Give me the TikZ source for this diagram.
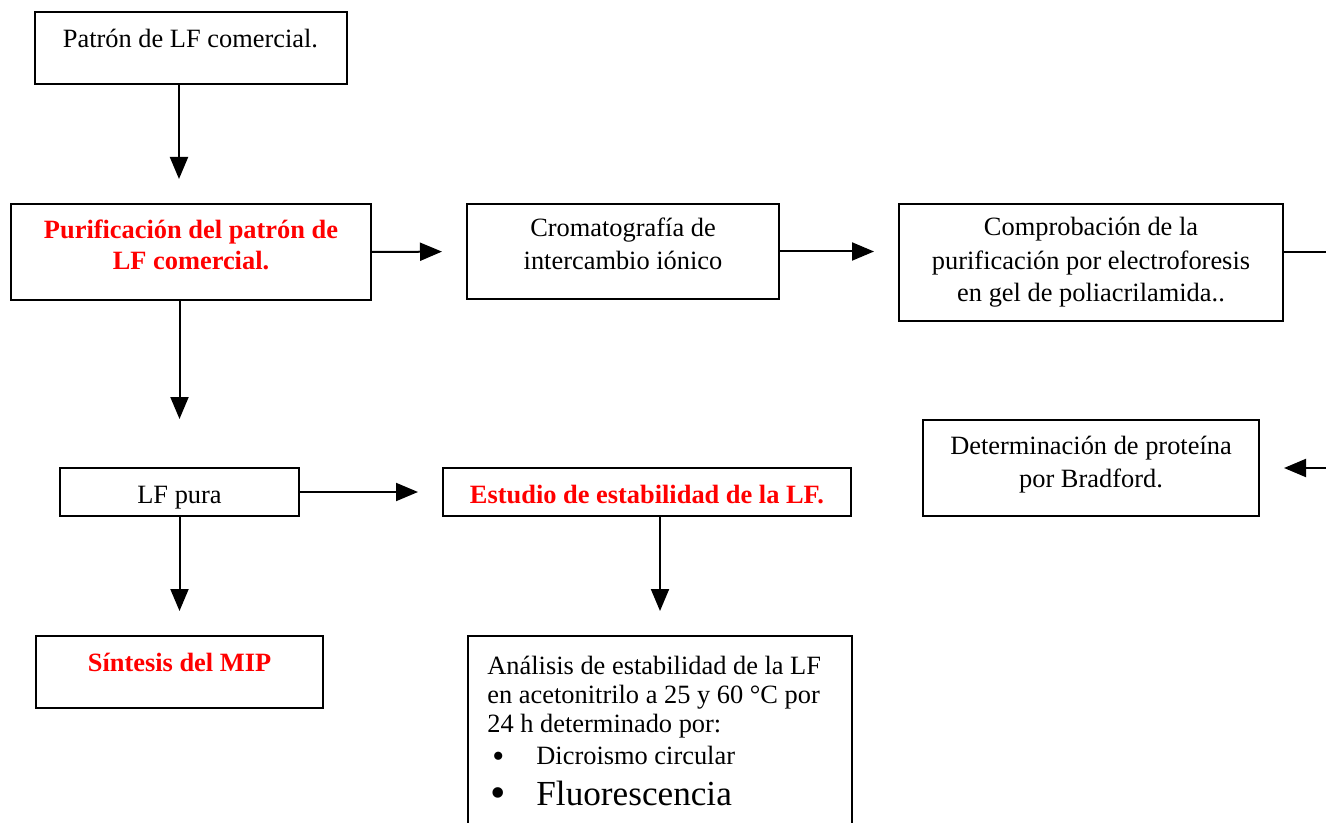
\documentclass[tikz,border=0pt]{standalone}
\usepackage{fontspec}
\setmainfont{Liberation Serif}
\usetikzlibrary{arrows.meta}
\begin{document}
\begin{tikzpicture}[x=0.5pt,y=-0.5pt,
  box/.style={draw,line width=1pt,inner sep=0pt},
  txt/.style={anchor=base,align=center,inner sep=0pt,font=\fontsize{13.2}{16.5}\selectfont},
  redtxt/.style={txt,text=red,font=\fontsize{13.2}{15.5}\selectfont\bfseries},
  conn/.style={line width=1pt,-{Triangle[width=9pt,length=11pt]}}
]
\useasboundingbox (0,0) rectangle (1326,823);
% boxes
\node[box,minimum width=156pt,minimum height=36pt] (patron) at (191,48) {};
\node[box,minimum width=180pt,minimum height=48pt] (purif) at (191,252) {};
\node[box,minimum width=156pt,minimum height=47.5pt] (crom) at (623,251.5) {};
\node[box,minimum width=192pt,minimum height=58.5pt] (compr) at (1091,262.5) {};
\node[box,minimum width=168pt,minimum height=48pt] (determ) at (1091,468) {};
\node[box,minimum width=119.5pt,minimum height=24pt] (lfpura) at (179.5,492) {};
\node[box,minimum width=204pt,minimum height=24pt] (estudio) at (647,492) {};
\node[box,minimum width=143.5pt,minimum height=36pt] (sintesis) at (179.5,672) {};
\node[box,anchor=north west,minimum width=192pt,minimum height=110pt] (analisisbox) at (467,635) {};
% texts (base = baseline of the last line)
\node[txt] (patrontxt) at (190.5,48) {Patrón de LF comercial.};
\node[redtxt] (puriftxt) at (191,270) {Purificación del patrón de\\LF comercial.};
\node[txt] (cromtxt) at (623,270) {Cromatografía de\\intercambio iónico};
\node[txt] (comprtxt) at (1091,302) {Comprobación de la\\purificación por electroforesis\\en gel de poliacrilamida..};
\node[txt] (determtxt) at (1091,487) {Determinación de proteína\\por Bradford.};
\node[txt] (lfpuratxt) at (179.5,503) {LF pura};
\node[redtxt] (estudiotxt) at (647,503) {Estudio de estabilidad de la LF.};
\node[redtxt] (sintesistxt) at (179.5,671) {Síntesis del MIP};
\node[anchor=north west,align=left,inner sep=0pt,font=\fontsize{13.2}{14.5}\selectfont] (analisis) at (487,656)
  {Análisis de estabilidad de la LF\\
   en acetonitrilo a 25 y 60 °C por\\
   24 h determinado por:\\[1.5pt]
   \makebox[24.5pt][l]{\hspace{2.5pt}\smash{\raisebox{-1.2pt}{\fontsize{17}{14.5}\selectfont•}}}Dicroismo circular\\[6pt]
   {\fontsize{17.6}{20}\selectfont\makebox[24.5pt][l]{\hspace{1.5pt}\smash{\raisebox{-0.8pt}{\fontsize{22}{20}\selectfont•}}}Fluorescencia}};
% connectors
\draw[conn,shorten >=12pt] ([xshift=-6pt]patron.south) -- ([xshift=-6pt]purif.north);
\draw[conn,shorten >=12pt] (purif.east) -- (crom.west);
\draw[conn,shorten >=12pt] (crom.east) -- (crom.east -| compr.west);
\draw[conn,shorten >=12pt] ([yshift=5.25pt]compr.east) -- ++(40pt,0) |- (determ.east);
\draw[conn,shorten >=24pt] (lfpura.north |- purif.south) -- (lfpura.north);
\draw[conn,shorten >=12pt] (lfpura.east) -- (estudio.west);
\draw[conn,shorten >=12pt] (lfpura.south) -- (sintesis.north);
\draw[conn,shorten >=12pt] (estudio.south -| analisisbox.north) -- (analisisbox.north);
\end{tikzpicture}
\end{document}
